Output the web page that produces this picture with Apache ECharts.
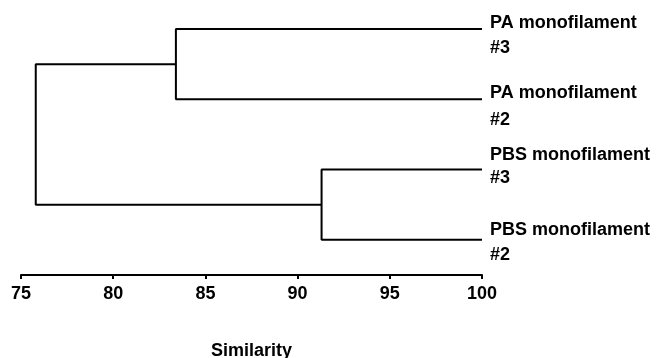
<!DOCTYPE html>
<html>
<head>
<meta charset="utf-8">
<script src="https://cdn.jsdelivr.net/npm/echarts@6/dist/echarts.min.js"></script>
<style>
  html, body { margin: 0; padding: 0; background: #fff; }
  #chart { width: 661px; height: 358px; }
</style>
</head>
<body>
<div id="chart"></div>
<script>
// leaves, top to bottom
var leafNames = ["PA monofilament", "PA monofilament", "PBS monofilament", "PBS monofilament"];
var leafTags = ["#3", "#2", "#3", "#2"];
// merges: node index a + node index b joined at similarity sim (new nodes get 4, 5, ...)
var mergeA = [0, 2, 4];
var mergeB = [1, 3, 5];
var mergeSim = [83.4, 91.3, 75.8];
var xTicks = [75, 80, 85, 90, 95, 100];

// label nudges (px) so the text blocks sit like the original
var labelShift = [7, 7.5, -3, 3];
var labelLine = [25, 27, 23, 25];

var font = "Liberation Sans, Arial, sans-serif";

var nodeX = [], nodeY = [];
leafNames.forEach(function (n, i) { nodeX.push(100); nodeY.push(i); });

var series = [];
mergeSim.forEach(function (s, k) {
  var a = mergeA[k], b = mergeB[k];
  series.push({
    type: "line",
    symbol: "none",
    silent: true,
    lineStyle: { color: "#000", width: 2 },
    data: [[nodeX[a], nodeY[a]], [s, nodeY[a]], [s, nodeY[b]], [nodeX[b], nodeY[b]]]
  });
  nodeX.push(s);
  nodeY.push((nodeY[a] + nodeY[b]) / 2);
});

// leaf names
series.push({
  type: "scatter",
  symbolSize: 0,
  silent: true,
  itemStyle: { opacity: 1 },
  label: { show: true, color: "#000", fontSize: 18, fontWeight: "bold", fontFamily: font },
  data: leafNames.map(function (n, i) {
    return {
      value: [100, i],
      label: {
        show: true,
        position: "right",
        distance: 8,
        offset: [0, labelShift[i]],
        lineHeight: labelLine[i],
        formatter: n + "\n" + leafTags[i],
        color: "#000",
        fontSize: 18,
        fontWeight: "bold",
        fontFamily: font
      }
    };
  })
});

var chart = echarts.init(document.getElementById("chart"));
chart.setOption({
  animation: false,
  grid: { left: 21, right: 179, top: 29, bottom: 83, containLabel: false, outerBoundsMode: "none" },
  xAxis: {
    type: "value",
    min: xTicks[0],
    max: xTicks[xTicks.length - 1],
    interval: 5,
    name: "Similarity",
    nameLocation: "middle",
    nameGap: 67,
    nameTextStyle: { color: "#000", fontSize: 18, fontWeight: "bold", fontFamily: font },
    axisLine: { onZero: false, lineStyle: { color: "#000", width: 2 } },
    axisTick: { length: 4, lineStyle: { color: "#000", width: 2 } },
    axisLabel: { color: "#000", fontSize: 18, fontWeight: "bold", margin: 10, fontFamily: font },
    splitLine: { show: false }
  },
  yAxis: {
    type: "value",
    inverse: true,
    min: 0,
    max: 3.5,
    show: false
  },
  series: series
});
</script>
</body>
</html>
